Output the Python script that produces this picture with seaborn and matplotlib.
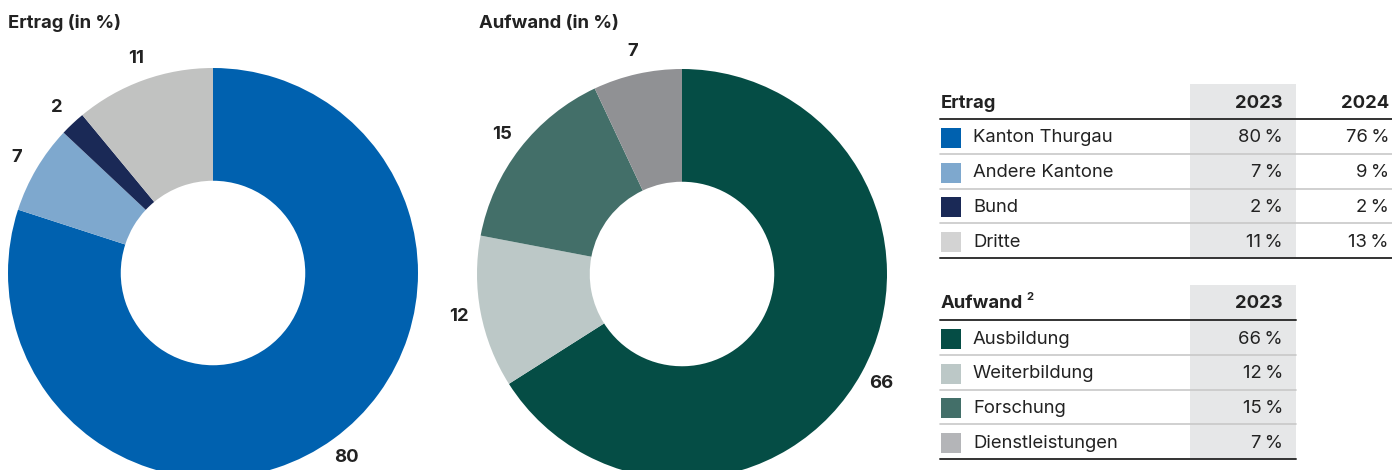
import matplotlib
matplotlib.use("Agg")
import matplotlib.pyplot as plt
from matplotlib.patches import Rectangle
import seaborn as sns

# data
ertrag_labels = ["Kanton Thurgau", "Andere Kantone", "Bund", "Dritte"]
ertrag_2023 = [80, 7, 2, 11]
ertrag_2024 = [76, 9, 2, 13]
ertrag_colors = ["#0061AF", "#7EA8CE", "#1A2956", "#C1C2C1"]
ertrag_swatch = ["#0061AF", "#7EA8CE", "#1A2956", "#D3D3D3"]

aufwand_labels = ["Ausbildung", "Weiterbildung", "Forschung", "Dienstleistungen"]
aufwand_2023 = [66, 12, 15, 7]
aufwand_colors = ["#054D45", "#BCC8C7", "#436F69", "#909194"]
aufwand_swatch = ["#054D45", "#BCC8C7", "#436F69", "#B4B5B8"]

sns.set_theme(style="white")
plt.rcParams["font.family"] = ["Inter", "DejaVu Sans"]

W, H = 1392, 470
TXT = "#222222"
FS = 13.3

fig = plt.figure(figsize=(W / 100, H / 100), dpi=100)


def donut(cx, cy, r, values, colors):
    ax = fig.add_axes([(cx - r) / W, (H - cy - r) / H, 2 * r / W, 2 * r / H])
    wedges, texts = ax.pie(values, colors=colors, startangle=90, counterclock=False,
                           labels=[str(v) for v in values], labeldistance=1.11,
                           wedgeprops=dict(width=0.55, linewidth=0))
    for t in texts:
        t.set_ha("center")
        t.set_va("center")
        t.set_fontsize(FS)
        t.set_fontweight("bold")
        t.set_color(TXT)
    ax.set_xlim(-1, 1)
    ax.set_ylim(-1, 1)
    ax.axis("off")
    return ax


donut(213, 273, 205, ertrag_2023, ertrag_colors)
donut(682, 274, 205, aufwand_2023, aufwand_colors)

# overlay in pixel coordinates for titles and tables
ov = fig.add_axes([0, 0, 1, 1])
ov.set_xlim(0, W)
ov.set_ylim(H, 0)
ov.axis("off")

ov.text(8, 23, "Ertrag (in %)", fontsize=FS, fontweight="bold", color=TXT, va="center")
ov.text(479, 23, "Aufwand (in %)", fontsize=FS, fontweight="bold", color=TXT, va="center")


def table(top, header, years, labels, cols, swatch, right):
    # shaded 2023 column
    ov.add_patch(Rectangle((1190, top), 106, 174, color="#E6E7E8", lw=0, zorder=0))
    hy = top + 19
    ov.text(941, hy, header, fontsize=FS, fontweight="bold", color=TXT, va="center")
    if header.startswith("Aufwand"):
        ov.text(1026, hy - 7, "2", fontsize=8, fontweight="bold", color=TXT, va="center")
    xs = [1283, 1389]
    for x, y in zip(xs, years):
        ov.text(x, hy, y, fontsize=FS, fontweight="bold", color=TXT, va="center", ha="right")
    ov.plot([940, right], [top + 35, top + 35], color="#333333", lw=1.4, zorder=2)
    for i, lab in enumerate(labels):
        yc = top + 54 + i * 34.7
        ov.add_patch(Rectangle((941, yc - 10), 20, 20, color=swatch[i], lw=0, zorder=2))
        ov.text(973, yc, lab, fontsize=FS, color=TXT, va="center")
        for x, col in zip(xs, cols):
            ov.text(x, yc, f"{col[i]}\u2009%", fontsize=FS, color=TXT, va="center", ha="right")
        ly = top + 70 + i * 34.7
        if i < len(labels) - 1:
            ov.plot([940, right], [ly, ly], color="#C8C8C8", lw=1.2, zorder=2)
        else:
            ov.plot([940, right], [ly, ly], color="#333333", lw=1.4, zorder=2)


table(84, "Ertrag", ["2023", "2024"], ertrag_labels, [ertrag_2023, ertrag_2024],
      ertrag_swatch, W)
table(285, "Aufwand", ["2023"], aufwand_labels, [aufwand_2023],
      aufwand_swatch, 1296)

fig.savefig("out.png", dpi=100)
